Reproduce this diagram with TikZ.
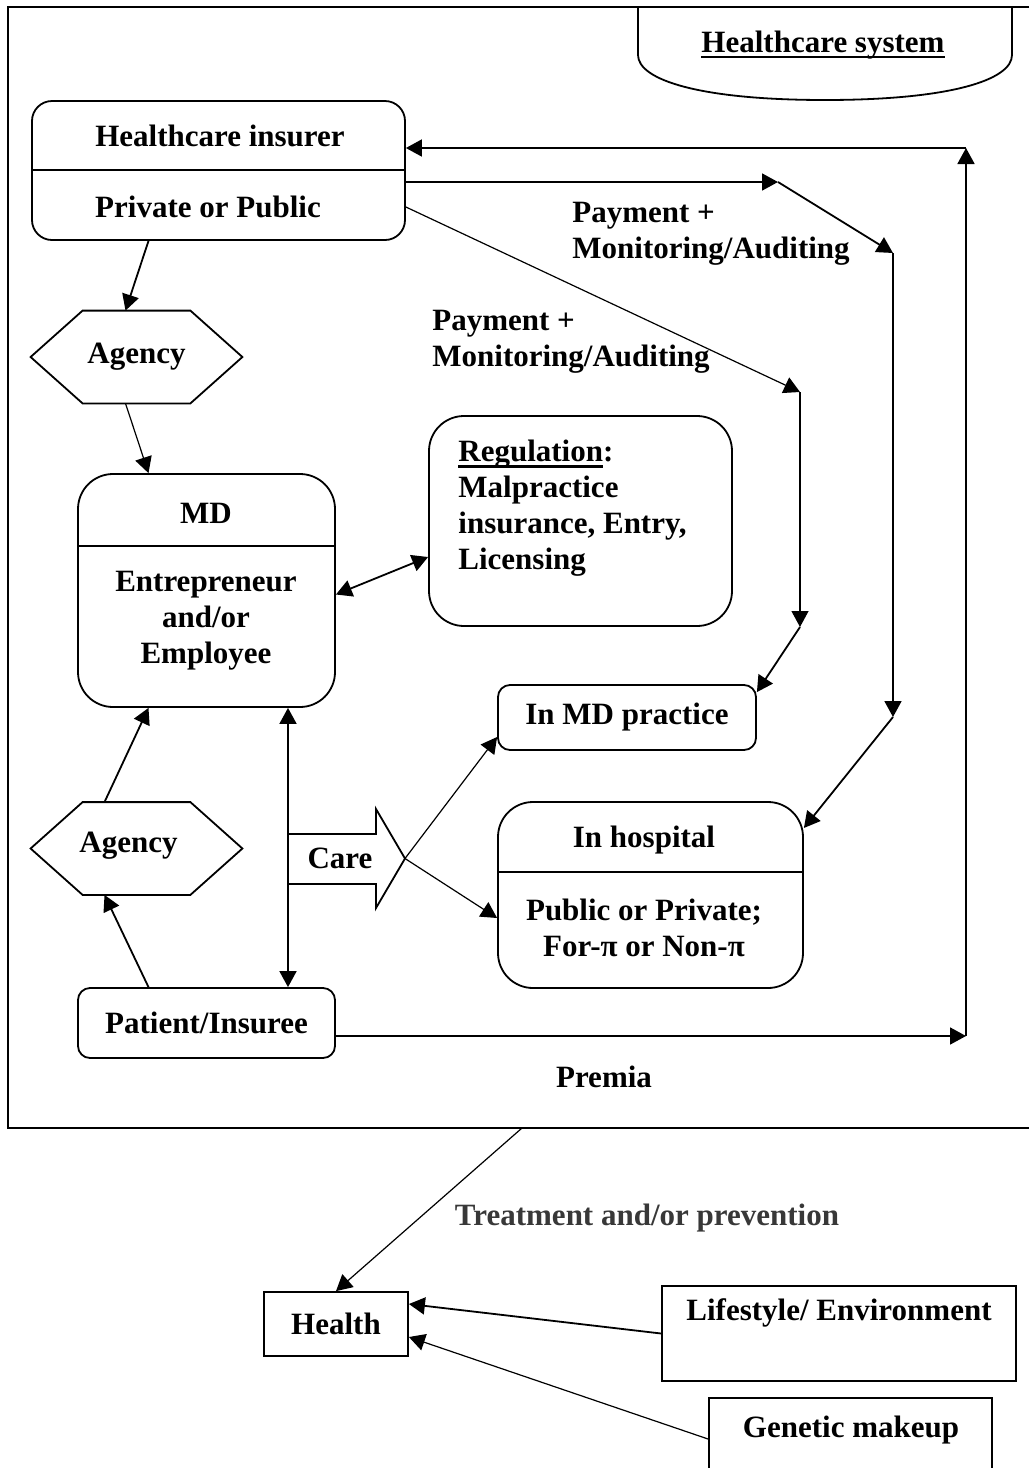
\documentclass[tikz,border=0pt]{standalone}
\usepackage{fontspec}
\setmainfont{Liberation Serif}
\usetikzlibrary{positioning, arrows.meta}
\newcommand{\heavyuline}[1]{\leavevmode\setbox0=\hbox{#1}\rlap{\vrule height -1.6pt depth 3pt width \wd0}\box0}

\begin{document}
\begin{tikzpicture}
    [
        x=0.5pt, y=-0.5pt,
        every node/.append style={font=\fontsize{15.5}{18}\selectfont\bfseries, inner sep=0pt},
        round_box/.style={draw=black, line width=0.9pt, rounded corners=17.5pt},
        small_box/.style={draw=black, line width=0.9pt, rounded corners=6pt},
        plain_box/.style={draw=black, line width=0.9pt},
        hex_node/.style={minimum width=105.5pt, minimum height=46pt},
        edge_line/.style={line width=0.9pt},
        thick_arrow/.style={-{Triangle[length=8pt, width=8.5pt]}, line width=0.9pt},
        thin_arrow/.style={-{Triangle[length=8pt, width=8.5pt]}, line width=0.6pt},
        both_arrow/.style={{Triangle[length=8pt, width=8.5pt]}-{Triangle[length=8pt, width=8.5pt]}, line width=0.9pt},
    ]
        \useasboundingbox (0,0) rectangle (1029,1468) ;
        \draw[line width=1pt] (1029,7) -- (8,7) -- (8,1128) -- (1029,1128) ;
        \draw[edge_line] (638,7) -- (638,55) .. controls (638,80) and (700,100) .. (825,100) .. controls (950,100) and (1012,80) .. (1012,55) -- (1012,7) ;
        \node (hcs) at (823,45) {\heavyuline{Healthcare system}} ;

        \node[round_box, rounded corners=10pt, minimum width=186.5pt, minimum height=69.5pt] (ins) at (218.5,170.5) {} ;
        \draw[edge_line] (ins.west |- 0,170) -- (ins.east |- 0,170) ;
        \node (ins_top) at (220,136) {Healthcare insurer} ;
        \node (ins_bot) at (208,207) {Private or Public} ;

        \node[hex_node] (agA) at (136.5,357) {Agency} ;
        \draw[edge_line] (agA.west) -- ([xshift=26pt]agA.north west) -- ([xshift=-26pt]agA.north east) -- (agA.east) -- ([xshift=-26pt]agA.south east) -- ([xshift=26pt]agA.south west) -- cycle ;
        \node[hex_node] (agB) at (136.5,848.5) {} ;
        \draw[edge_line] (agB.west) -- ([xshift=26pt]agB.north west) -- ([xshift=-26pt]agB.north east) -- (agB.east) -- ([xshift=-26pt]agB.south east) -- ([xshift=26pt]agB.south west) -- cycle ;
        \node (agB_text) at (128.5,846) {Agency} ;

        \node[round_box, minimum width=128.5pt, minimum height=116.5pt] (md) at (206.5,590.5) {} ;
        \draw[edge_line] (md.west |- 0,546) -- (md.east |- 0,546) ;
        \node (md_top) at (206,513) {MD} ;
        \node[align=center] (md_bot) at (206,621) {Entrepreneur\\and/or\\Employee} ;

        \node[round_box, minimum width=151.5pt, minimum height=105pt] (reg) at (580.5,521) {} ;
        \node[anchor=west, align=left] (reg_text) at (458,508.5) {\heavyuline{Regulation}:\\Malpractice\\insurance, Entry,\\Licensing} ;

        \node[small_box, minimum width=129pt, minimum height=32.5pt] (mdp) at (627,717.5) {In MD practice} ;
        \node[round_box, minimum width=152.5pt, minimum height=93pt] (hosp) at (650.5,895) {} ;
        \draw[edge_line] (hosp.west |- 0,872) -- (hosp.east |- 0,872) ;
        \node (hosp_top) at (644,840) {In hospital} ;
        \node[align=center] (hosp_bot) at (644,928) {Public or Private;\\For-π or Non-π} ;

        \node[small_box, minimum width=128.5pt, minimum height=35pt] (pat) at (206.5,1023) {Patient/Insuree} ;

        \draw[edge_line] (288,834) -- (376,834) -- (376,809) -- (405,858.5) -- (376,908) -- (376,884) -- (288,884) ;
        \coordinate (care_tip) at (405,858.5) ;
        \node (care) at (340,858) {Care} ;

        \node[anchor=west, align=left] (pay_a) at (572,233.5) {Payment +\\Monitoring/Auditing} ;
        \node[anchor=west, align=left] (pay_b) at (432,341.5) {Payment +\\Monitoring/Auditing} ;
        \node (premia) at (604,1077) {Premia} ;
        \node[text=black!78] (treat) at (647,1218) {Treatment and/or prevention} ;

        \node[plain_box, minimum width=72pt, minimum height=32pt] (health) at (336,1324) {Health} ;
        \node[plain_box, minimum width=177pt, minimum height=47.5pt] (life) at (839,1333.5) {} ;
        \node (life_text) at (839,1313) {Lifestyle/ Environment} ;
        \node[plain_box, minimum width=141.5pt, minimum height=41pt] (gene) at (850.5,1439) {} ;
        \node (gene_text) at (851,1430) {Genetic makeup} ;

        \coordinate (ret_b) at (966,1036) ;
        \coordinate (ret_t) at (966,148) ;
        \coordinate (pa1) at (778,182) ;
        \coordinate (pa2) at (893,253) ;
        \coordinate (pa3) at (893,717) ;
        \coordinate (pb1) at (800,392) ;
        \coordinate (pb2) at (800,627) ;
        \coordinate (frame_out) at (522,1128) ;

        \draw[thick_arrow] ([xshift=-35pt]ins.south) -- ([xshift=-5.5pt]agA.north) ;
        \draw[thin_arrow] ([xshift=-5.5pt]agA.south) -- ([xshift=-29pt]md.north) ;
        \draw[both_arrow] ([yshift=-2pt]md.east) -- ([yshift=-18pt]reg.west) ;
        \draw[both_arrow] ([xshift=40.75pt]md.south) -- ([xshift=40.75pt]pat.north) ;
        \draw[thick_arrow] ([xshift=-16pt]agB.north) -- ([xshift=-29pt]md.south) ;
        \draw[thick_arrow] ([xshift=-29pt]pat.north) -- ([xshift=-16pt]agB.south) ;
        \draw[thin_arrow] (care_tip) -- ([yshift=-9.75pt]mdp.west) ;
        \draw[thin_arrow] (care_tip) -- ([yshift=-11.5pt]hosp.west) ;
        \draw[thick_arrow] ([yshift=-6.5pt]pat.east) -- (ret_b) ;
        \draw[thick_arrow] (ret_b) -- (ret_t) ;
        \draw[thick_arrow] (ret_t) -- ([yshift=11.25pt]ins.east) ;
        \draw[thick_arrow] ([yshift=-5.75pt]ins.east) -- (pa1) ;
        \draw[thick_arrow] (pa1) -- (pa2) ;
        \draw[thick_arrow] (pa2) -- (pa3) ;
        \draw[thick_arrow] (pa3) -- ([yshift=33.5pt]hosp.east) ;
        \draw[thin_arrow] ([yshift=-18.25pt]ins.east) -- (pb1) ;
        \draw[thin_arrow] (pb1) -- (pb2) ;
        \draw[thick_arrow] (pb2) -- ([yshift=-4pt]mdp.north east) ;
        \draw[thin_arrow] (frame_out) -- (health.north) ;
        \draw[thick_arrow] (life.west) -- ([yshift=10pt]health.east) ;
        \draw[thin_arrow] (gene.west) -- ([yshift=-6.5pt]health.east) ;
\end{tikzpicture}
\end{document}
